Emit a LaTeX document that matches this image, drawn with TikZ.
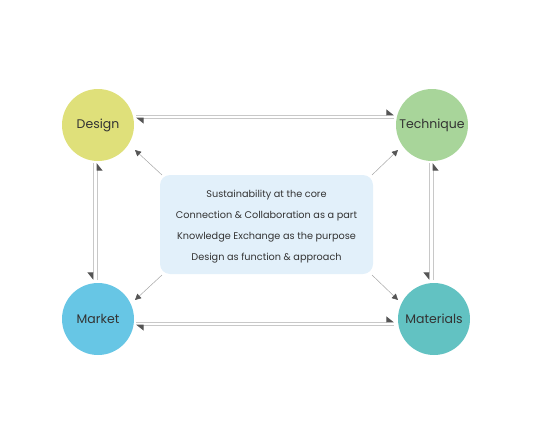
\documentclass[tikz,border=0pt]{standalone}
\usepackage{fontspec}
\setmainfont{Poppins}
\usetikzlibrary{arrows.meta}
\definecolor{cdesign}{HTML}{DFE07A}
\definecolor{ctech}{HTML}{A8D59A}
\definecolor{cmarket}{HTML}{67C6E5}
\definecolor{cmat}{HTML}{62C2C2}
\definecolor{cbox}{HTML}{E2F0FA}
\definecolor{linegray}{HTML}{C8C8C8}
\definecolor{arrowgray}{HTML}{555555}
\definecolor{txt}{HTML}{333333}
\tikzset{
  hub/.style={circle, minimum size=72pt, inner sep=0pt, text=txt, font=\fontsize{12.5}{14}\selectfont},
  pairl/.style={draw=linegray, line width=0.9pt, -{Triangle[harpoon, length=7pt, width=11pt, color=arrowgray]}},
  pairr/.style={draw=linegray, line width=0.9pt, -{Triangle[harpoon, swap, length=7pt, width=11pt, color=arrowgray]}},
  diag/.style={draw=gray!70, line width=0.5pt, -{Triangle[length=6pt, width=6pt, color=arrowgray]}},
  line/.style={text=txt, font=\fontsize{9.7}{11}\selectfont}
}
\begin{document}
\begin{tikzpicture}[x=1pt,y=-1pt]
\useasboundingbox (0,0) rectangle (533,426);
\node[hub, fill=cdesign] (design) at (98,125) {\raisebox{-2pt}{Design}};
\node[hub, fill=ctech] (tech) at (432,125) {\raisebox{-2pt}{Technique}};
\node[hub, fill=cmarket] (market) at (98,319) {Market};
\node[hub, fill=cmat] (mat) at (434,319) {Materials};
\node[fill=cbox, rounded corners=10pt, minimum width=213pt, minimum height=99pt, inner sep=0pt] (box) at (266.5,224.5) {};
\node[line] (t1) at (266.5,195) {Sustainability at the core};
\node[line] (t2) at (266.5,216) {Connection \& Collaboration as a part};
\node[line] (t3) at (266.5,237) {Knowledge Exchange as the purpose};
\node[line] (t4) at (266.5,258) {Design as function \& approach};
% coordinates for pair connectors
\coordinate (a1) at (136,115); \coordinate (a2) at (394,115);
\coordinate (b1) at (136,118); \coordinate (b2) at (394,118);
\coordinate (c1) at (136,322); \coordinate (c2) at (394,322);
\coordinate (d1) at (136,325); \coordinate (d2) at (394,325);
\coordinate (e1) at (93,163); \coordinate (e2) at (93,280);
\coordinate (f1) at (97,163); \coordinate (f2) at (97,280);
\coordinate (g1) at (429,163); \coordinate (g2) at (429,280);
\coordinate (h1) at (433,163); \coordinate (h2) at (433,280);
\draw[pairl] (a1) -- (a2);
\draw[pairl] (b2) -- (b1);
\draw[pairl] (c1) -- (c2);
\draw[pairl] (d2) -- (d1);
\draw[pairr] (e1) -- (e2);
\draw[pairr] (f2) -- (f1);
\draw[pairr] (g1) -- (g2);
\draw[pairr] (h2) -- (h1);
% diagonal arrows
\coordinate (k1) at (162,175); \coordinate (k2) at (135,150);
\coordinate (l1) at (372,175); \coordinate (l2) at (398,150);
\coordinate (m1) at (162,275); \coordinate (m2) at (135,300);
\coordinate (n1) at (372,275); \coordinate (n2) at (398,300);
\draw[diag] (k1) -- (k2);
\draw[diag] (l1) -- (l2);
\draw[diag] (m1) -- (m2);
\draw[diag] (n1) -- (n2);
\end{tikzpicture}
\end{document}
